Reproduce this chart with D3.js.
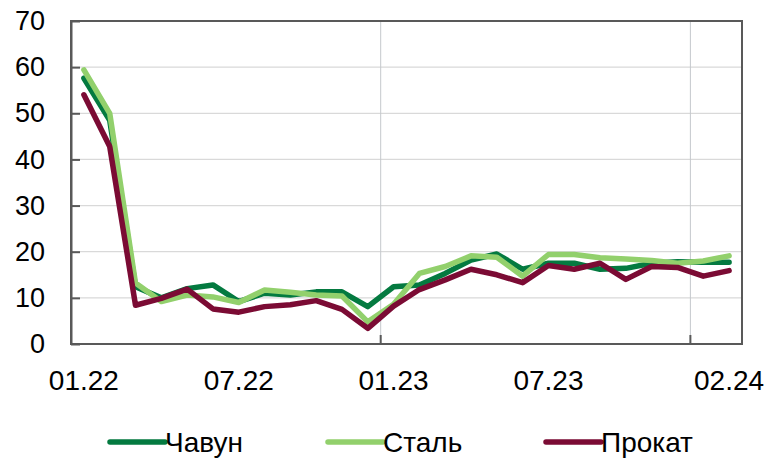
<!DOCTYPE html>
<html>
<head>
<meta charset="utf-8">
<script src="https://cdn.jsdelivr.net/npm/d3@7"></script>
<style>
  html, body { margin: 0; padding: 0; background: #fff; }
  svg { display: block; }
  text { font-family: "Liberation Sans", Arial, sans-serif; fill: #000; }
</style>
</head>
<body>
<svg id="chart" width="767" height="459"></svg>
<script>
const months = ["01.22","02.22","03.22","04.22","05.22","06.22","07.22","08.22","09.22","10.22","11.22","12.22",
                "01.23","02.23","03.23","04.23","05.23","06.23","07.23","08.23","09.23","10.23","11.23","12.23",
                "01.24","02.24"];
const tickLabels = ["01.22","07.22","01.23","07.23","02.24"];
const yTicks = [0,10,20,30,40,50,60,70];
const chavun = [57.6,48.5,12.4,10.0,12.0,12.8,9.2,11.0,10.6,11.3,11.3,8.1,
                12.4,12.8,15.3,18.2,19.5,16.2,17.5,17.5,16.2,16.4,17.5,17.8,17.7,17.7];
const stal   = [59.4,50.0,13.2,9.2,10.6,10.2,9.0,11.7,11.2,10.6,10.4,4.8,
                8.6,15.3,16.8,19.1,18.8,14.7,19.4,19.4,18.7,18.4,18.1,17.5,18.0,19.1];
const prokat = [54.0,42.8,8.4,9.9,11.9,7.6,6.9,8.1,8.5,9.4,7.5,3.4,
                8.2,11.8,13.9,16.2,15.0,13.3,17.0,16.2,17.5,14.0,16.8,16.6,14.7,15.9];
const seriesNames = ["Чавун","Сталь","Прокат"];
const seriesColors = ["#047a40","#92d06c","#7b0b34"];
const seriesData = [chavun, stal, prokat];

const svg = d3.select("#chart");
const L = 71, R = 742, T = 21, B = 344;

const x = d3.scaleBand().domain(months).range([L, R]).padding(0);
const y = d3.scaleLinear().domain([0, 70]).range([B, T]);
const cx = m => x(m) + x.bandwidth() / 2;

// horizontal gridlines
svg.append("g").selectAll("line").data(yTicks.filter(v => v > 0 && v < 70)).join("line")
  .attr("x1", L).attr("x2", R).attr("y1", d => y(d)).attr("y2", d => y(d))
  .attr("stroke", "#d9d9d9").attr("stroke-width", 1.3);

// vertical gridlines at year boundaries
const vBoundaries = ["01.23","01.24"];
svg.append("g").selectAll("line").data(vBoundaries).join("line")
  .attr("x1", d => x(d)).attr("x2", d => x(d)).attr("y1", T).attr("y2", B)
  .attr("stroke", "#c4c8cc").attr("stroke-width", 1);

// frame
svg.append("rect").attr("x", L).attr("y", T).attr("width", R - L).attr("height", B - T)
  .attr("fill", "none").attr("stroke", "#595959").attr("stroke-width", 2);

// y axis
const yAxis = d3.axisLeft(y).tickValues(yTicks).tickSizeInner(-9).tickSizeOuter(0).tickPadding(26);
const gy = svg.append("g").attr("transform", `translate(${L},0)`).call(yAxis);
gy.select(".domain").attr("stroke", "#595959").attr("stroke-width", 2);
gy.selectAll(".tick line").attr("stroke", "#595959").attr("stroke-width", 2);
gy.selectAll(".tick text").attr("font-size", 27).attr("font-family", "Liberation Sans, Arial, sans-serif").attr("fill", "#000");

// x axis labels
const gx = svg.append("g");
gx.selectAll("text").data(tickLabels).join("text")
  .attr("x", d => cx(d)).attr("y", 390)
  .attr("text-anchor", "middle").attr("font-size", 28).text(d => d);
// x tick marks (inside) at boundaries
gx.selectAll("line").data(vBoundaries).join("line")
  .attr("x1", d => x(d)).attr("x2", d => x(d)).attr("y1", B).attr("y2", B - 9)
  .attr("stroke", "#595959").attr("stroke-width", 2);

// lines
const line = d3.line().x((d, i) => cx(months[i])).y(d => y(d));
seriesData.forEach((s, k) => {
  svg.append("path").datum(s).attr("d", line)
    .attr("fill", "none").attr("stroke", seriesColors[k]).attr("stroke-width", 5.5)
    .attr("stroke-linejoin", "round").attr("stroke-linecap", "round");
});

// legend
const legX = [110, 328, 546];
const lg = svg.append("g");
seriesNames.forEach((n, k) => {
  lg.append("line").attr("x1", legX[k]).attr("x2", legX[k] + 55).attr("y1", 442).attr("y2", 442)
    .attr("stroke", seriesColors[k]).attr("stroke-width", 5.5).attr("stroke-linecap", "round");
  lg.append("text").attr("x", legX[k] + 55).attr("y", 452).attr("font-size", 28).text(n);
});
</script>
</body>
</html>
